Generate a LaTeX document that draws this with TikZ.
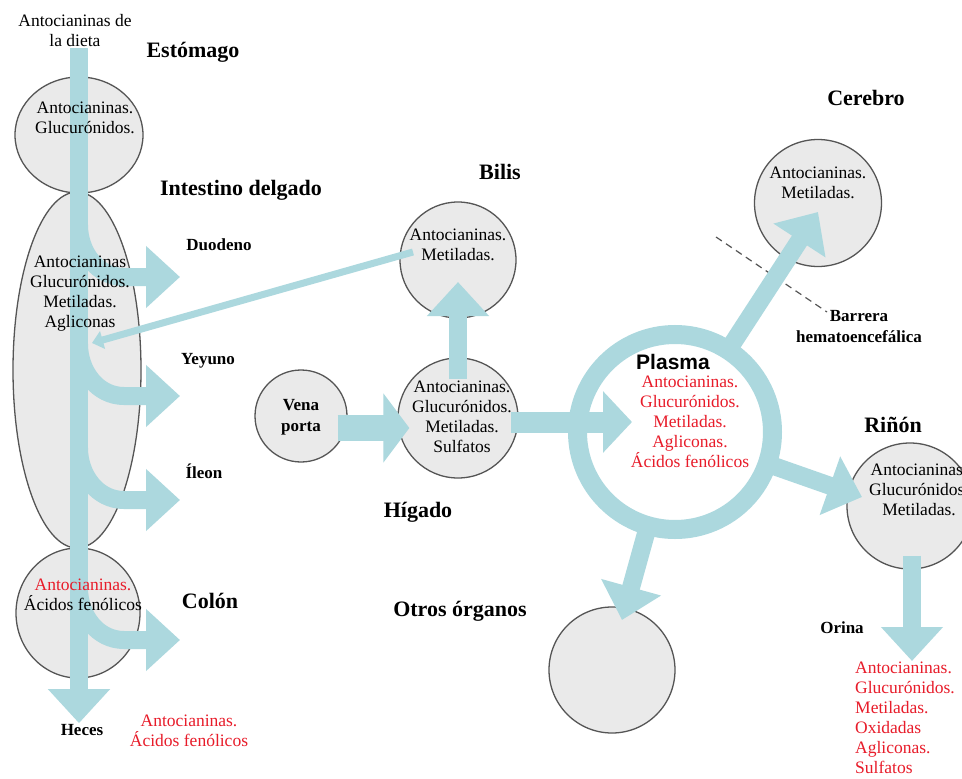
\documentclass[tikz,border=0pt]{standalone}
\usepackage{fontspec}
\setmainfont{Liberation Serif}
\newfontfamily\plasmafont{Liberation Sans}
\usepackage{xcolor}
\usetikzlibrary{arrows.meta, shapes.geometric}

\definecolor{flujo}{RGB}{172,216,222}
\definecolor{organo}{RGB}{234,234,234}
\definecolor{borde}{RGB}{85,85,85}
\definecolor{rojo}{RGB}{232,28,42}

\tikzset{
    organ/.style={circle, draw=borde, fill=organo, line width=1.3pt, minimum size=#1pt, inner sep=0pt},
    oval/.style 2 args={ellipse, draw=borde, fill=organo, line width=1.3pt, minimum width=#1pt, minimum height=#2pt, inner sep=0pt},
    flow/.style={draw=flujo, line width=18pt, -{Triangle[length=34pt, width=60pt]}},
    txt/.style={font=\fontsize{17.5}{20}\selectfont, align=center, inner sep=1pt},
    lista/.style={txt, text=rojo},
    titulo/.style={font=\fontsize{22}{26}\selectfont\bfseries},
    etiqueta/.style={font=\fontsize{17}{21}\selectfont\bfseries, align=center, inner sep=1pt},
}

\begin{document}
\begin{tikzpicture}[x=1pt, y=-1pt]
    \useasboundingbox (0,0) rectangle (962,779);
    \clip (0,0) rectangle (962,779);
    \fill[white] (0,0) rectangle (962,779);

    % organos
    \node[oval={128}{116}] (est) at (79,135) {};
    \node[oval={128}{356}] (int) at (77,370) {};
    \node[oval={124}{130}] (col) at (78,613) {};
    \node[organ=92]  (vena) at (301,416) {};
    \node[organ=116] (bil)  at (458,260) {};
    \node[organ=120] (hig)  at (458,418) {};
    \node[organ=127] (cer)  at (818,203) {};
    \node[organ=126] (rin)  at (910,506) {};
    \node[organ=126] (otr)  at (612,670) {};
    \node[circle, draw=flujo, line width=19pt, minimum size=195pt, outer sep=0pt] (pla) at (675,432) {};

    % rotulos
    \node[txt]      (dieta)   at (75,31)   {Antocianinas de\\la dieta};
    \node[titulo]   (est-l)   at (193,52)  {Estómago};
    \node[titulo]   (int-l)   at (241,190) {Intestino delgado};
    \node[etiqueta] (duo-l)   at (219,245) {Duodeno};
    \node[etiqueta] (yey-l)   at (208,361) {Yeyuno};
    \node[etiqueta] (ile-l)   at (204,471) {Íleon};
    \node[titulo]   (col-l)   at (210,601) {Colón};
    \node[etiqueta] (heces)   at (82,730)  {Heces};
    \node[lista]    (heces-l) at (189,731) {Antocianinas.\\Ácidos fenólicos};
    \node[titulo]   (bil-l)   at (500,172) {Bilis};
    \node[titulo]   (hig-l)   at (418,512) {Hígado};
    \node[titulo]   (otr-l)   at (460,611) {Otros órganos};
    \node[titulo]   (cer-l)   at (866,98)  {Cerebro};
    \node[titulo]   (rin-l)   at (893,425) {Riñón};
    \node[etiqueta] (ori-l)   at (842,628) {Orina};
    \node[etiqueta] (barrera) at (859,327) {Barrera\\hematoencefálica};
    \node[lista, align=left, anchor=north west] (orl) at (854,661)
        {Antocianinas.\\Glucurónidos.\\Metiladas.\\Oxidadas\\Agliconas.\\Sulfatos};

    \coordinate (bhe1) at (716,237);
    \coordinate (bhe2) at (827,312);
    \draw[borde, line width=1.2pt, dash pattern=on 7pt off 5pt] (bhe1) -- (bhe2);

    % flujos
    \draw[flow] (dieta.south -| est) -- (heces.north -| est);
    \foreach \n/\y in {duo/277, yey/396, ile/500, cln/640} {
        \coordinate (\n-a) at (79,{\y-52});
        \coordinate (\n-b) at (180,\y);
        \draw[flow] (\n-a) to[out=-90, in=180] ([xshift=-56pt]\n-b) -- (\n-b);
    }
    \draw[flujo, line width=7pt, -{Triangle[length=11pt, width=18pt]}]
        ([xshift=-45pt, yshift=8pt]bil.center) -- ([xshift=15pt, yshift=27pt]int.center);
    \draw[flow, line width=26pt, -{Triangle[length=26pt, width=68pt]}]
        ([xshift=-10pt, yshift=-12pt]vena.east) -- ([xshift=12pt, yshift=-10pt]hig.west);
    \draw[flow] ([yshift=-22pt]hig.north) -- ([yshift=-22pt]bil.center);
    \draw[flow, line width=21pt, -{Triangle[length=29pt, width=60pt]}]
        ([xshift=-8pt, yshift=-4pt]hig.east) -- ([xshift=-43pt, yshift=10pt]pla.center);
    \draw[flow] (pla.57)   -- ([yshift=-9pt]cer.center);
    \draw[flow] (pla.-19)  -- ([xshift=-48pt, yshift=9pt]rin.center);
    \draw[flow] (pla.-106) -- ([xshift=10pt, yshift=50pt]otr.center);
    \draw[flow] ([xshift=2pt, yshift=14pt]rin.south) -- ([xshift=2pt]rin.south |- orl.north);

    % contenidos
    \node[txt] (est-t) at (85,118) {Antocianinas.\\Glucurónidos.};
    \node[txt] (int-t) at (80,294) {Antocianinas\\Glucurónidos.\\Metiladas.\\Agliconas};
    \node[txt] (col-t) at (83,595) {\textcolor{rojo}{Antocianinas.}\\Ácidos fenólicos};
    \node[txt] (bil-t) at (458,245) {Antocianinas.\\Metiladas.};
    \node[txt] (hig-t) at (462,417) {Antocianinas.\\Glucurónidos.\\Metiladas.\\Sulfatos};
    \node[txt] (cer-t) at (818,183) {Antocianinas.\\Metiladas.};
    \node[txt] (rin-t) at (919,490) {Antocianinas.\\Glucurónidos.\\Metiladas.};
    \node[etiqueta] (vena-t) at (301,417) {Vena\\porta};
    \node[font=\plasmafont\bfseries\fontsize{21}{24}\selectfont, inner sep=0pt] (pla-t) at (673,362) {Plasma};
    \node[lista, inner sep=0pt] (pla-l) at (690,422) {Antocianinas.\\Glucurónidos.\\Metiladas.\\Agliconas.\\Ácidos fenólicos};
\end{tikzpicture}
\end{document}
